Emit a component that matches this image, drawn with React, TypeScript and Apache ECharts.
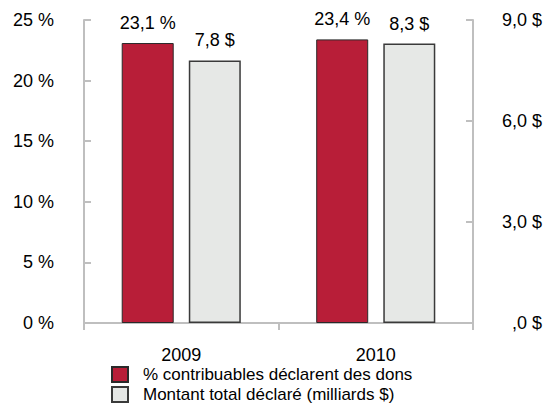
import React, { useEffect, useRef } from "react";
import * as echarts from "echarts";

const categories = ["2009", "2010"];
const pctContribuables = [23.1, 23.4];
const montantTotal = [7.8, 8.3];
const pctLabels = ["23,1 %", "23,4 %"];
const montantLabels = ["7,8 $", "8,3 $"];
const leftTickLabels = ["0 %", "5 %", "10 %", "15 %", "20 %", "25 %"];
const rightTickLabels = [",0 $", "3,0 $", "6,0 $", "9,0 $"];
const seriesNames = ["% contribuables déclarent des dons", "Montant total déclaré (milliards $)"];

const FONT = "Liberation Sans, Arial, sans-serif";

export default function App() {
  const ref = useRef<HTMLDivElement>(null);
  useEffect(() => {
    if (!ref.current) return;
    const chart = echarts.init(ref.current, null, { renderer: "svg" });
    const axisLineStyle = { color: "#BFBFBF", width: 2 };
    chart.setOption({
      animation: false,
      textStyle: { fontFamily: FONT },
      grid: { left: 84, right: 70, top: 20, bottom: 81, containLabel: false },
      legend: {
        orient: "vertical",
        left: 111,
        top: 366,
        width: 400,
        height: 80,
        padding: 0,
        itemGap: 3,
        itemWidth: 16,
        itemHeight: 15,
        icon: "rect",
        textStyle: { fontSize: 17, color: "#000", fontFamily: FONT, lineHeight: 15, padding: [0, 0, 0, 10] },
        data: seriesNames,
      },
      xAxis: {
        type: "category",
        data: categories,
        axisLine: { lineStyle: axisLineStyle },
        axisTick: { show: true, length: 7, lineStyle: axisLineStyle, alignWithLabel: false },
        axisLabel: { fontSize: 18, color: "#000", margin: 23, fontFamily: FONT },
      },
      yAxis: [
        {
          type: "value",
          min: 0,
          max: 25,
          interval: 5,
          position: "left",
          splitLine: { show: false },
          axisLine: { show: true, lineStyle: axisLineStyle },
          axisTick: { show: true, inside: true, length: 7, lineStyle: axisLineStyle },
          axisLabel: {
            fontSize: 18,
            color: "#000",
            margin: 30,
            fontFamily: FONT,
            formatter: (v: number) => leftTickLabels[Math.round(v / 5)] ?? "",
          },
        },
        {
          type: "value",
          min: 0,
          max: 9,
          interval: 3,
          position: "right",
          splitLine: { show: false },
          axisLine: { show: true, lineStyle: axisLineStyle },
          axisTick: { show: true, inside: true, length: 7, lineStyle: axisLineStyle },
          axisLabel: {
            fontSize: 18,
            color: "#000",
            margin: 69,
            align: "right",
            fontFamily: FONT,
            formatter: (v: number) => rightTickLabels[Math.round(v / 3)] ?? "",
          },
        },
      ],
      series: [
        {
          name: seriesNames[0],
          type: "bar",
          yAxisIndex: 0,
          data: pctContribuables,
          barWidth: 52,
          barGap: "29%",
          itemStyle: { color: "#B81E38", borderColor: "#2A2A2A", borderWidth: 1 },
          label: {
            show: true,
            position: "top",
            distance: 11,
            fontSize: 18,
            color: "#000",
            fontFamily: FONT,
            formatter: (p: any) => pctLabels[p.dataIndex],
          },
        },
        {
          name: seriesNames[1],
          type: "bar",
          yAxisIndex: 1,
          data: montantTotal,
          barWidth: 52,
          itemStyle: { color: "#E6E8E6", borderColor: "#3A3A3A", borderWidth: 1.5 },
          label: {
            show: true,
            position: "top",
            distance: 11,
            fontSize: 18,
            color: "#000",
            fontFamily: FONT,
            formatter: (p: any) => montantLabels[p.dataIndex],
          },
        },
      ],
    });
    return () => chart.dispose();
  }, []);
  return (
    <div
      ref={ref}
      style={{ position: "fixed", left: 0, top: 0, width: 545, height: 404, background: "#fff" }}
    />
  );
}
